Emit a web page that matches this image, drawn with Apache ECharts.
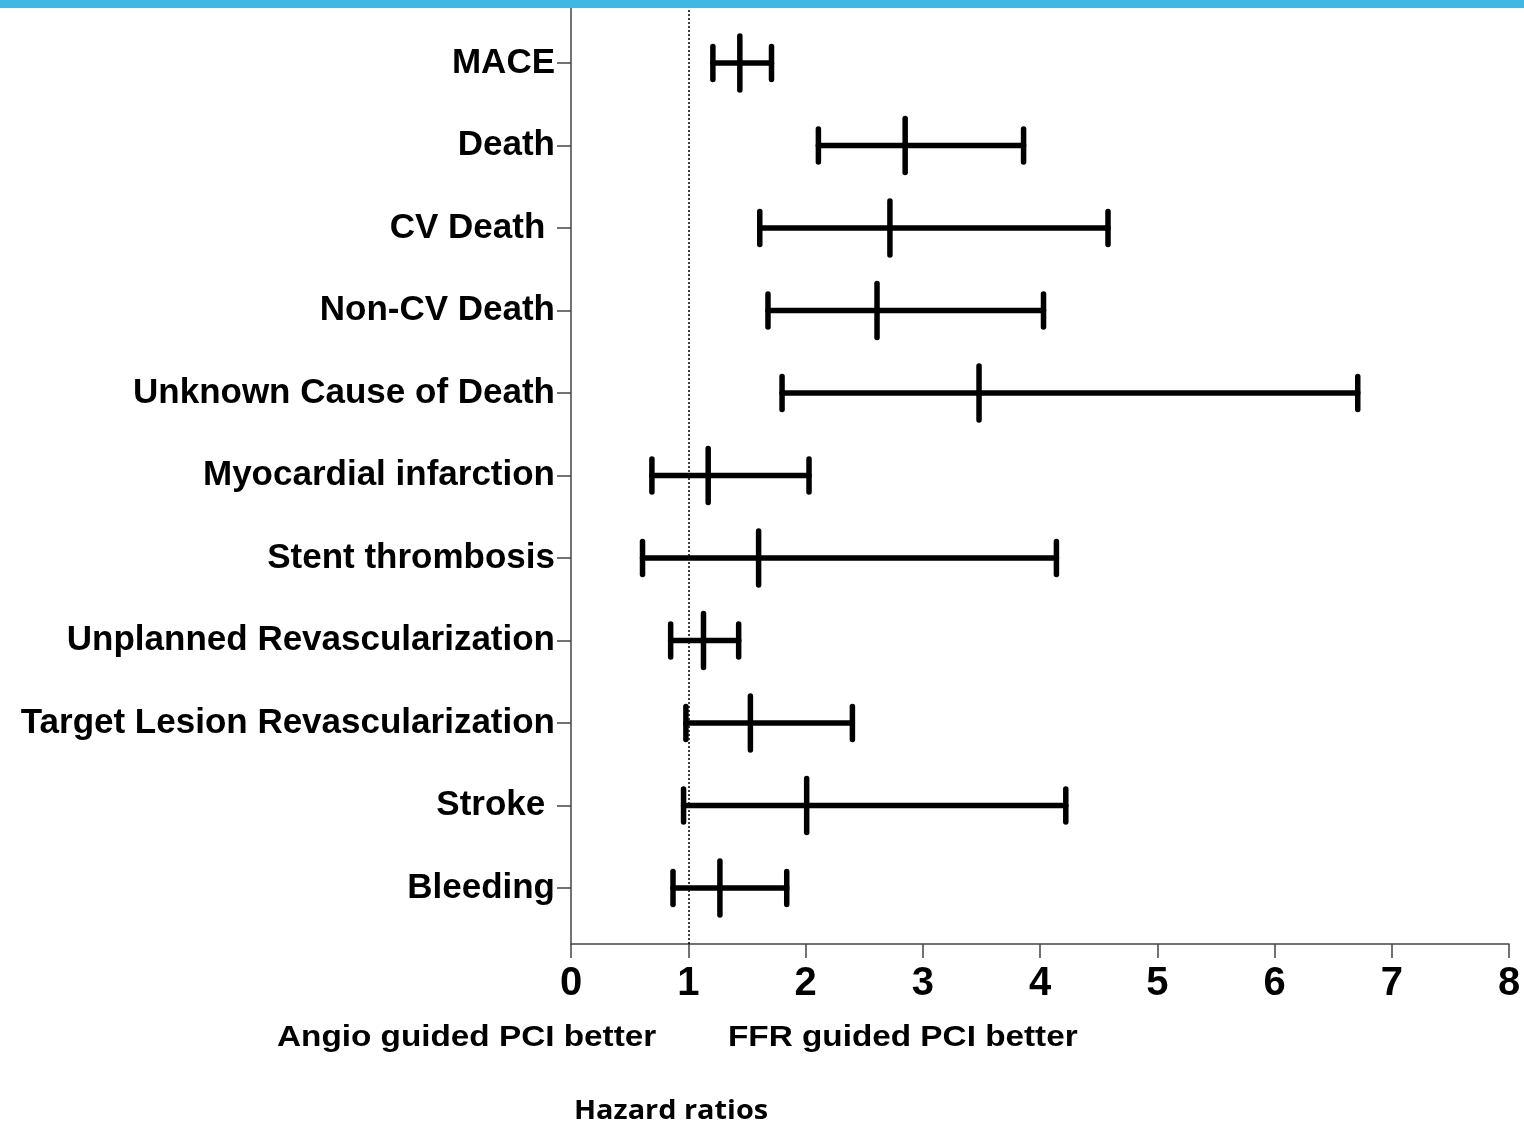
<!DOCTYPE html>
<html>
<head>
<meta charset="utf-8">
<script src="https://cdn.jsdelivr.net/npm/echarts@6/dist/echarts.min.js"></script>
<style>
	html, body { margin: 0; padding: 0; background: #fff; }
	#chart { width: 1524px; height: 1125px; }
</style>
</head>
<body>
<div id="chart"></div>
<script>
// outcomes, top to bottom (trailing spaces kept as in the source figure)
const outcomes = [
	'MACE', 'Death', 'CV Death ', 'Non-CV Death', 'Unknown Cause of Death',
	'Myocardial infarction', 'Stent thrombosis', 'Unplanned Revascularization',
	'Target Lesion Revascularization', 'Stroke ', 'Bleeding'
];
// hazard ratio with 95% CI
const hrLow = [1.21, 2.11, 1.61, 1.68, 1.80, 0.69, 0.61, 0.85, 0.98, 0.96, 0.87];
const hrPoint = [1.44, 2.85, 2.72, 2.61, 3.48, 1.17, 1.60, 1.13, 1.53, 2.01, 1.27];
const hrHigh = [1.71, 3.86, 4.58, 4.03, 6.71, 2.03, 4.14, 1.43, 2.40, 4.22, 1.84];
const xTicks = [0, 1, 2, 3, 4, 5, 6, 7, 8];
const rowIdx = outcomes.map((_, i) => i);

const chart = echarts.init(document.getElementById('chart'));

const renderWhisker = (params, api) => {
	const y = api.value(0);
	const pLow = api.coord([api.value(1), y]);
	const pMid = api.coord([api.value(2), y]);
	const pHigh = api.coord([api.value(3), y]);
	const style = { stroke: '#000', lineWidth: 5.5, lineCap: 'round' };
	const capH = 16.5;
	const midH = 27;
	return {
		type: 'group',
		children: [
			{ type: 'line', shape: { x1: pLow[0], y1: pLow[1], x2: pHigh[0], y2: pHigh[1] }, style },
			{ type: 'line', shape: { x1: pLow[0], y1: pLow[1] - capH, x2: pLow[0], y2: pLow[1] + capH }, style },
			{ type: 'line', shape: { x1: pHigh[0], y1: pHigh[1] - capH, x2: pHigh[0], y2: pHigh[1] + capH }, style },
			{ type: 'line', shape: { x1: pMid[0], y1: pMid[1] - midH, x2: pMid[0], y2: pMid[1] + midH }, style },
		]
	};
};

const boldArial = 'bold 30px "Liberation Sans", Arial, sans-serif';

chart.setOption({
	animation: false,
	grid: {
		top: 6,
		left: 571,
		right: 15,
		bottom: 181,
	},
	xAxis: {
		type: 'value',
		min: 0,
		max: 8,
		interval: 1,
		axisLine: { show: true, onZero: false, lineStyle: { color: '#444', width: 1.5 } },
		axisTick: { show: true, length: 14, lineStyle: { color: '#444', width: 1.5 } },
		axisLabel: {
			margin: 20,
			color: '#000',
			fontSize: 40,
			fontWeight: 'bold',
			fontFamily: 'Liberation Sans, Arial, sans-serif',
			formatter: (v) => xTicks.includes(v) ? String(v) : '',
		},
		splitLine: { show: false },
	},
	yAxis: {
		type: 'value',
		inverse: true,
		min: -0.69,
		max: 10.68,
		axisLine: { show: true, onZero: false, lineStyle: { color: '#444', width: 1.5 } },
		axisTick: { show: true, length: 14, customValues: rowIdx, lineStyle: { color: '#444', width: 1.5 } },
		axisLabel: {
			customValues: rowIdx,
			margin: 16,
			padding: [4, 0, 0, 0],
			color: '#000',
			fontSize: 35,
			fontWeight: 'bold',
			fontFamily: 'Liberation Sans, Arial, sans-serif',
			formatter: (v) => outcomes[Math.round(v)] || '',
		},
		splitLine: { show: false },
	},
	series: [
		{
			type: 'custom',
			renderItem: renderWhisker,
			encode: { x: [1, 2, 3], y: 0 },
			data: rowIdx.map(i => [i, hrLow[i], hrPoint[i], hrHigh[i]]),
			markLine: {
				silent: true,
				symbol: 'none',
				label: { show: false },
				lineStyle: { color: '#000', type: [2, 2], width: 1.5 },
				data: [{ xAxis: 1 }],
			},
			z: 3,
		}
	],
	graphic: [
		{ type: 'rect', left: 0, top: 0, shape: { width: 1524, height: 8 }, style: { fill: '#3DB9E3' }, z: 10 },
		{
			type: 'text', x: 277, y: 1038, scaleX: 1.11,
			style: { text: 'Angio guided PCI better', fill: '#000', font: boldArial, verticalAlign: 'middle' }
		},
		{
			type: 'text', x: 728, y: 1038, scaleX: 1.11,
			style: { text: 'FFR guided PCI better', fill: '#000', font: boldArial, verticalAlign: 'middle' }
		},
		{
			type: 'text', x: 574, y: 1111, scaleX: 1.07,
			style: { text: 'Hazard ratios', fill: '#000', font: 'bold 27px "Open Sans", sans-serif', verticalAlign: 'middle' }
		},
	],
});
</script>
</body>
</html>
